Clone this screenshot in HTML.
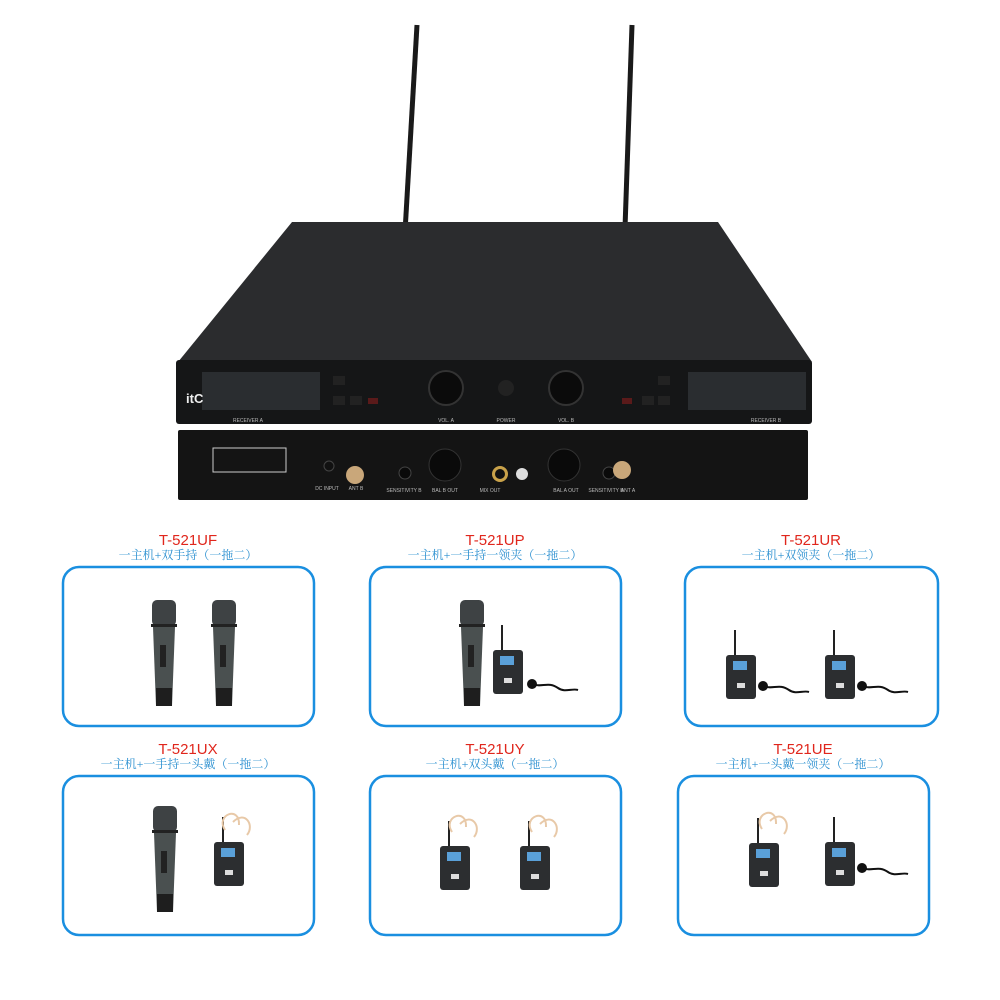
<!DOCTYPE html>
<html><head><meta charset="utf-8"><style>
html,body{margin:0;padding:0;background:#fff;}
svg{display:block;}
.t{font-family:"Liberation Sans",sans-serif;fill:#e0261c;font-size:15px;text-anchor:middle;}
.s{font-family:"Liberation Serif","Noto Serif CJK SC",serif;fill:#2a8fd0;font-size:12px;text-anchor:middle;}
.l{font-family:"Liberation Sans",sans-serif;fill:#bbb;font-size:5px;text-anchor:middle;}
</style></head><body>
<svg width="1000" height="1000" viewBox="0 0 1000 1000" xmlns="http://www.w3.org/2000/svg">
<defs>
<g id="mic">
  <rect x="-12" y="0" width="24" height="26" rx="5" fill="#3e4244"/>
  <rect x="-13" y="24" width="26" height="3" fill="#222"/>
  <path d="M-11 27 L11 27 L8 106 L-8 106 Z" fill="#4a5050"/>
  <rect x="-4" y="45" width="6" height="22" fill="#222"/>
  <rect x="-8" y="88" width="16" height="18" fill="#1e1e1e"/>
</g>
<g id="pack">
  <line x1="-6" y1="-25" x2="-6" y2="0" stroke="#222" stroke-width="2"/>
  <rect x="-15" y="0" width="30" height="44" rx="3" fill="#2c2e30"/>
  <rect x="-8" y="6" width="14" height="9" fill="#5aa0d8"/>
  <rect x="-4" y="28" width="8" height="5" fill="#ddd"/>
</g>
<g id="lav">
  <path d="M0 0 C 10 4, 16 -3, 26 4 C 33 9, 40 4, 46 6" stroke="#111" stroke-width="2" fill="none"/>
  <circle cx="0" cy="0" r="5" fill="#111"/>
</g>
<g id="head">
  <path d="M0 0 C -10 -15, 15 -25, 14 -5 M8 -8 C 20 -20, 30 -5, 22 5" stroke="#e8c9a8" stroke-width="2" fill="none"/>
</g>
</defs>

<path d="M417 25 L405 232" stroke="#1a1a1a" stroke-width="5"/>
<path d="M632 25 L625 228" stroke="#1a1a1a" stroke-width="5"/>
<path d="M292 222 L718 222 L812 362 L178 362 Z" fill="#2b2c2e"/>
<rect x="176" y="360" width="636" height="64" rx="3" fill="#151617"/>
<rect x="202" y="372" width="118" height="38" fill="#2a2d30"/>
<rect x="688" y="372" width="118" height="38" fill="#2a2d30"/>
<circle cx="446" cy="388" r="17" fill="#0b0b0b" stroke="#333" stroke-width="2"/>
<circle cx="566" cy="388" r="17" fill="#0b0b0b" stroke="#333" stroke-width="2"/>
<circle cx="506" cy="388" r="8" fill="#222"/>
<rect x="333" y="376" width="12" height="9" fill="#222"/><rect x="333" y="396" width="12" height="9" fill="#222"/><rect x="350" y="396" width="12" height="9" fill="#222"/><rect x="368" y="398" width="10" height="6" fill="#5a1a1a"/>
<rect x="658" y="376" width="12" height="9" fill="#222"/><rect x="658" y="396" width="12" height="9" fill="#222"/><rect x="642" y="396" width="12" height="9" fill="#222"/><rect x="622" y="398" width="10" height="6" fill="#5a1a1a"/>
<text x="186" y="403" font-family="Liberation Sans,sans-serif" font-weight="bold" font-size="13" fill="#eee">itC</text>
<text class="l" x="248" y="422">RECEIVER A</text><text class="l" x="446" y="422">VOL. A</text><text class="l" x="506" y="422">POWER</text><text class="l" x="566" y="422">VOL. B</text><text class="l" x="766" y="422">RECEIVER B</text>
<rect x="178" y="430" width="630" height="70" rx="2" fill="#141414"/>
<rect x="213" y="448" width="73" height="24" fill="none" stroke="#ccc" stroke-width="1"/>
<circle cx="355" cy="475" r="9" fill="#c9a77a"/><circle cx="405" cy="473" r="6" fill="#0a0a0a" stroke="#444"/>
<circle cx="445" cy="465" r="16" fill="#0a0a0a" stroke="#333"/><circle cx="564" cy="465" r="16" fill="#0a0a0a" stroke="#333"/>
<circle cx="500" cy="474" r="8" fill="#c9a24a"/><circle cx="500" cy="474" r="5" fill="#111"/>
<circle cx="522" cy="474" r="6" fill="#ddd"/><circle cx="609" cy="473" r="6" fill="#0a0a0a" stroke="#444"/>
<circle cx="622" cy="470" r="9" fill="#c9a77a"/><circle cx="329" cy="466" r="5" fill="#111" stroke="#444"/>
<text class="l" x="327" y="490">DC INPUT</text><text class="l" x="356" y="490">ANT B</text><text class="l" x="404" y="492">SENSITIVITY B</text><text class="l" x="445" y="492">BAL B OUT</text><text class="l" x="490" y="492">MIX OUT</text><text class="l" x="566" y="492">BAL A OUT</text><text class="l" x="606" y="492">SENSITIVITY B</text><text class="l" x="628" y="492">ANT A</text>

<g fill="none" stroke="#1a8fe0" stroke-width="2.5">
<rect x="63" y="567" width="251" height="159" rx="16"/>
<rect x="370" y="567" width="251" height="159" rx="16"/>
<rect x="685" y="567" width="253" height="159" rx="16"/>
<rect x="63" y="776" width="251" height="159" rx="16"/>
<rect x="370" y="776" width="251" height="159" rx="16"/>
<rect x="678" y="776" width="251" height="159" rx="16"/>
</g>
<text class="t" x="188" y="545">T-521UF</text><text class="s" x="188" y="559">一主机+双手持（一拖二）</text>
<text class="t" x="495" y="545">T-521UP</text><text class="s" x="495" y="559">一主机+一手持一领夹（一拖二）</text>
<text class="t" x="811" y="545">T-521UR</text><text class="s" x="811" y="559">一主机+双领夹（一拖二）</text>
<text class="t" x="188" y="754">T-521UX</text><text class="s" x="188" y="768">一主机+一手持一头戴（一拖二）</text>
<text class="t" x="495" y="754">T-521UY</text><text class="s" x="495" y="768">一主机+双头戴（一拖二）</text>
<text class="t" x="803" y="754">T-521UE</text><text class="s" x="803" y="768">一主机+一头戴一领夹（一拖二）</text>

<use href="#mic" x="164" y="600"/><use href="#mic" x="224" y="600"/>
<use href="#mic" x="472" y="600"/><use href="#pack" x="508" y="650"/><use href="#lav" x="532" y="684"/>
<use href="#pack" x="741" y="655"/><use href="#lav" x="763" y="686"/><use href="#pack" x="840" y="655"/><use href="#lav" x="862" y="686"/>
<use href="#mic" x="165" y="806"/><use href="#pack" x="229" y="842"/><use href="#head" x="225" y="830"/>
<use href="#pack" x="455" y="846"/><use href="#head" x="452" y="832"/><use href="#pack" x="535" y="846"/><use href="#head" x="532" y="832"/>
<use href="#pack" x="764" y="843"/><use href="#head" x="762" y="829"/><use href="#pack" x="840" y="842"/><use href="#lav" x="862" y="868"/>
</svg>
</body></html>
